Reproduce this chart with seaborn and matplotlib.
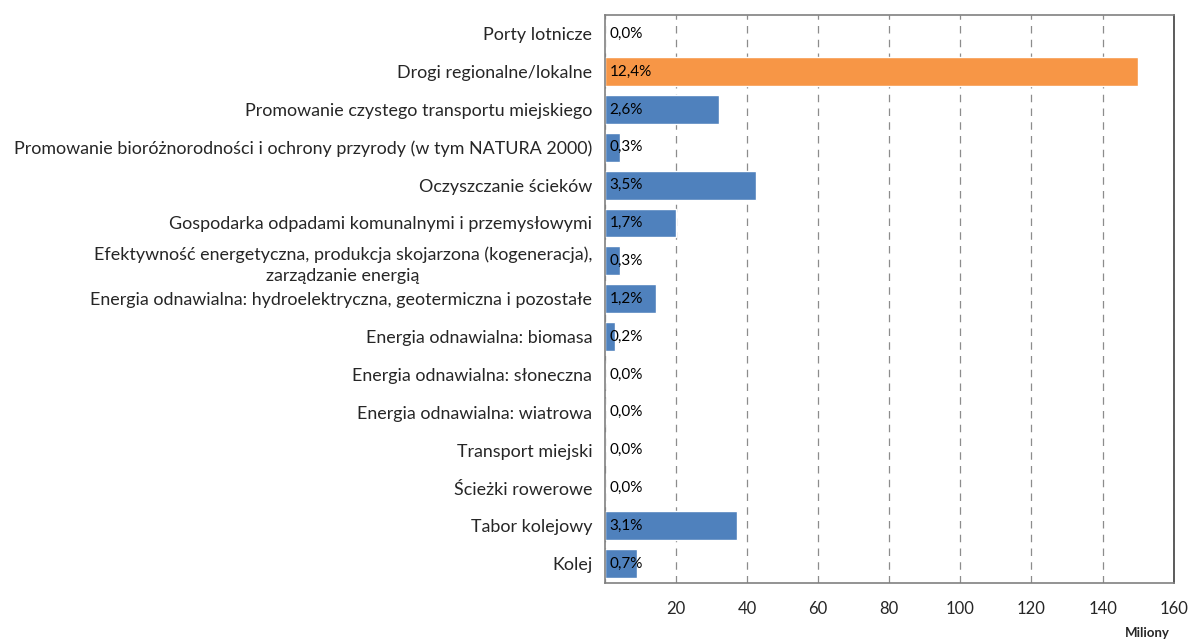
import matplotlib
matplotlib.use("Agg")
import matplotlib.pyplot as plt
import numpy as np
import pandas as pd
import seaborn as sns

categories = [
    "Porty lotnicze",
    "Drogi regionalne/lokalne",
    "Promowanie czystego transportu miejskiego",
    "Promowanie bioróżnorodności i ochrony przyrody (w tym NATURA 2000)",
    "Oczyszczanie ścieków",
    "Gospodarka odpadami komunalnymi i przemysłowymi",
    "Efektywność energetyczna, produkcja skojarzona (kogeneracja),\nzarządzanie energią",
    "Energia odnawialna: hydroelektryczna, geotermiczna i pozostałe",
    "Energia odnawialna: biomasa",
    "Energia odnawialna: słoneczna",
    "Energia odnawialna: wiatrowa",
    "Transport miejski",
    "Ścieżki rowerowe",
    "Tabor kolejowy",
    "Kolej",
]
values = [0, 150, 32, 4.3, 42.5, 20, 4.2, 14.4, 2.8, 0, 0, 0, 0, 37.2, 9]
shares = ["0,0%", "12,4%", "2,6%", "0,3%", "3,5%", "1,7%", "0,3%", "1,2%",
          "0,2%", "0,0%", "0,0%", "0,0%", "0,0%", "3,1%", "0,7%"]
highlight = "Drogi regionalne/lokalne"
x_ticks = [0, 20, 40, 60, 80, 100, 120, 140, 160]

df = pd.DataFrame({"kategoria": categories, "wartosc": values, "udzial": shares})
df["grupa"] = np.where(df["kategoria"] == highlight, "h", "n")

sns.set_style("white")
plt.rcParams["font.family"] = ["Lato", "DejaVu Sans"]

fig = plt.figure(figsize=(11.88, 6.41), dpi=100)
ax = fig.add_axes([0.509, 0.091, 0.479, 0.886])

sns.barplot(data=df, x="wartosc", y="kategoria", hue="grupa",
            palette={"h": "#F79646", "n": "#4F81BD"}, dodge=False,
            width=0.76, saturation=1, legend=False, ax=ax)

for i, txt in enumerate(df["udzial"]):
    ax.text(1.3, i, txt, va="center", ha="left", fontsize=11, color="black")

ax.set_xlim(0, 160)
ax.set_ylim(len(categories) - 0.5, -0.5)
ax.set_xticks(x_ticks)
ax.set_xticklabels([""] + [str(t) for t in x_ticks[1:]], fontsize=12)
ax.xaxis.grid(True, linestyle=(0, (6, 5)), color="#8c8c8c", linewidth=0.9)
ax.set_axisbelow(True)

ax.set_yticks(range(len(categories)))
ax.set_yticklabels(categories, fontsize=12.9, multialignment="center",
                   linespacing=1.45)
ax.set_yticks(np.arange(-0.5, len(categories), 1), minor=True)
ax.tick_params(axis="y", which="major", length=0, pad=9)
ax.tick_params(axis="y", which="minor", length=5, color="#808080", width=1)
ax.tick_params(axis="x", length=5, color="#808080", width=1, pad=8)

ax.set_xlabel("")
ax.set_ylabel("")
for side, sp in ax.spines.items():
    sp.set_visible(True)
    sp.set_linewidth(1.2)
    sp.set_color("#808080" if side in ("left", "bottom", "top") else "#404040")

fig.text(0.985, 0.003, "Miliony", ha="right", va="bottom",
         fontsize=9.5, fontweight="bold")

fig.savefig("out.png", dpi=100)
